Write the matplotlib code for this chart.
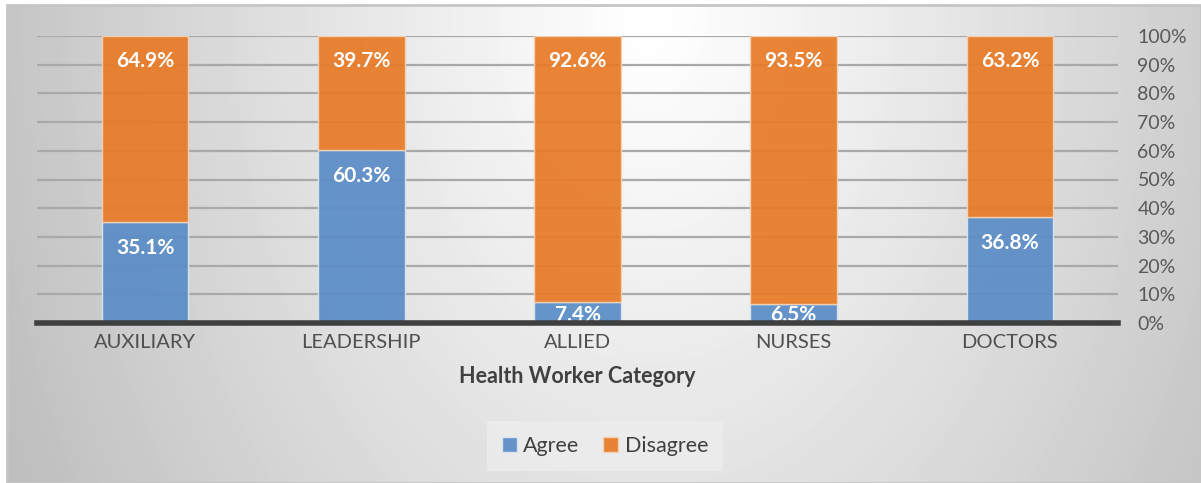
import matplotlib.pyplot as plt
import numpy as np
from matplotlib.patches import Rectangle

# данные
categories = ["AUXILIARY", "LEADERSHIP", "ALLIED", "NURSES", "DOCTORS"]
agree = [35.1, 60.3, 7.4, 6.5, 36.8]
disagree = [64.9, 39.7, 92.6, 93.5, 63.2]
y_ticks = [0, 10, 20, 30, 40, 50, 60, 70, 80, 90, 100]

W, H = 1201, 483
plt.rcParams["font.family"] = ["Lato", "DejaVu Sans"]

fig = plt.figure(figsize=(W / 100, H / 100), dpi=100)
fig.patch.set_facecolor("white")

# фон с радиальным градиентом
bg = fig.add_axes([7 / W, 0, 1 - 7 / W, (H - 5) / H])
bg.set_axis_off()
yy, xx = np.mgrid[5:H, 7:W]
d = np.sqrt(((xx - 650) / 643.0) ** 2 + ((yy - 15) / 918.0) ** 2)
shade = np.clip(255 - 58 * d ** 1.1, 0, 255) / 255.0
bg.imshow(shade, cmap="gray", vmin=0, vmax=1, aspect="auto",
          extent=[0, 1, 0, 1], origin="upper", interpolation="bilinear")
bg.add_patch(Rectangle((0, 0), 1, 1, transform=bg.transAxes, fill=False,
                       edgecolor="#c6c6c6", linewidth=2, clip_on=False))
bg.set_xlim(0, 1)
bg.set_ylim(0, 1)

ax = fig.add_axes([37 / W, 160 / H, (1118 - 37) / W, 287 / H])
ax.set_facecolor("none")

x = np.arange(len(categories))
blue = "#5b8dc7"
orange = "#e87b27"
width = 0.4

ax.bar(x, agree, width, color=blue, alpha=0.93, edgecolor="#dde6f2",
       linewidth=1, label="Agree", zorder=3)
ax.bar(x, disagree, width, bottom=agree, color=orange, alpha=0.93,
       edgecolor="#f5d2b5", linewidth=1, label="Disagree", zorder=3)

# подписи значений (внутри у верхнего края сегмента)
for i in range(len(categories)):
    ya = max(agree[i] - 9.0, 2.8)
    ax.text(x[i], ya, f"{agree[i]}%", ha="center", va="center",
            color="white", fontsize=15, fontweight="bold", zorder=5)
    yd = agree[i] + disagree[i] - 8.8
    ax.text(x[i], yd, f"{disagree[i]}%", ha="center", va="center",
            color="white", fontsize=15, fontweight="bold", zorder=5)

ax.set_xlim(-0.5, len(categories) - 0.5)
ax.set_ylim(0, 100)
ax.set_yticks(y_ticks)
ax.set_yticklabels([f"{t}%" for t in y_ticks])
ax.yaxis.tick_right()
ax.set_xticks(x)
ax.set_xticklabels(categories)
ax.tick_params(axis="y", length=0, pad=14, labelsize=14, labelcolor="#595959")
ax.tick_params(axis="x", length=0, pad=8, labelsize=14.5, labelcolor="#505050")
for s in ax.spines.values():
    s.set_visible(False)

ax.yaxis.grid(True, color="#a9a9a9", linewidth=1.6, zorder=1)
ax.set_axisbelow(True)
ax.axhline(0, color="#3f3f3f", linewidth=4, zorder=6, clip_on=False)

ax.set_xlabel("Health Worker Category", fontsize=15.5, fontweight="bold",
              color="#404040", labelpad=11)

leg = fig.legend(loc="center", bbox_to_anchor=(605 / W, 37 / H), ncol=2,
                 fontsize=15.5, frameon=True, fancybox=False,
                 handlelength=0.7, handleheight=0.7, handletextpad=0.3,
                 columnspacing=1.1, borderpad=0.7)
leg.get_frame().set_facecolor("#f0f0f0")
leg.get_frame().set_alpha(0.6)
leg.get_frame().set_edgecolor("none")
for t in leg.get_texts():
    t.set_color("#404040")

fig.savefig("out.png", dpi=100)
plt.close()
